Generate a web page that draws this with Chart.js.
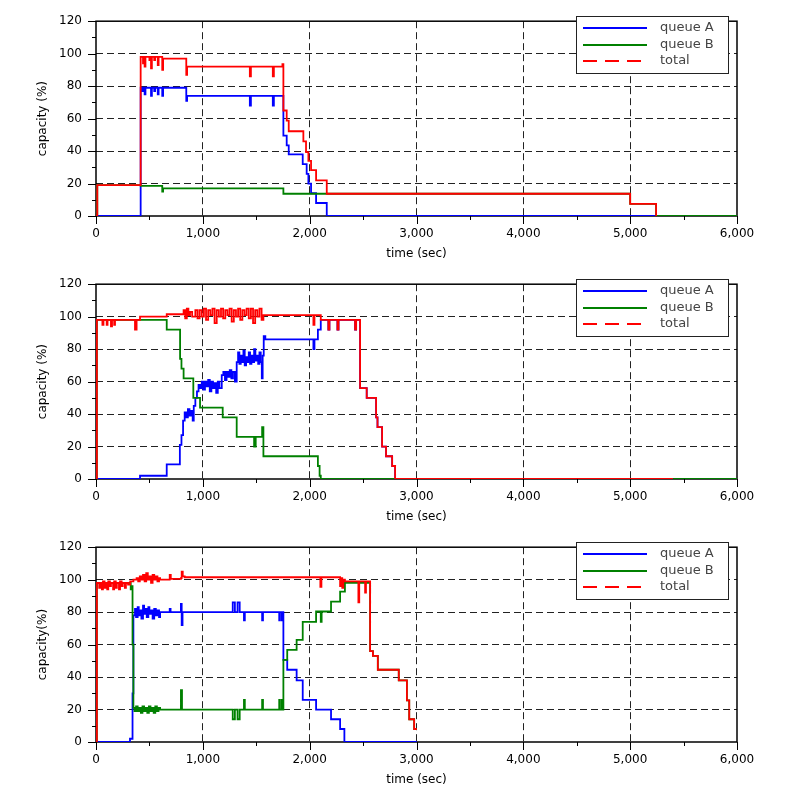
<!DOCTYPE html>
<html>
<head>
<meta charset="utf-8">
<script src="https://cdn.jsdelivr.net/npm/chart.js@4.4.0/dist/chart.umd.min.js"></script>
<style>
  html, body { margin: 0; padding: 0; background: #fff; }
  #wrap { position: relative; width: 785px; height: 808px; }
  canvas { position: absolute; left: 0; }
</style>
</head>
<body>
<div id="wrap">
  <canvas id="c1" width="785" height="263" style="top:0px"></canvas>
  <canvas id="c2" width="785" height="263" style="top:263px"></canvas>
  <canvas id="c3" width="785" height="263" style="top:526px"></canvas>
</div>
<script>
// series names and axis titles
const seriesNames = ['queue A', 'queue B', 'total'];
const yTitles = ['capacity (%)', 'capacity (%)', 'capacity(%)'];
const xTitle = 'time (sec)';

// chart 1: [time, capacity]
const queueA1 = [[0,0],[418,79],[430,77],[440,79],[455,75],[463,79],[515,74],[523,79],[545,77],[553,79],[578,75],[586,79],[620,74],[628,79],[845,71],[853,74],[1440,68],[1450,74],[1655,68],[1665,74],[1754,49.5],[1785,43.5],[1804,38],[1935,32],[1972,26],[1988,20],[2013,14],[2060,8],[2160,0],[6000,0]];
const queueB1 = [[0,0],[12,19],[418,18.6],[620,15],[628,17],[1754,13.7],[5000,7.5],[5243,0],[6000,0]];
const total1 = [[0,0],[12,19],[418,98],[440,94],[448,98],[455,92],[463,98],[500,96],[508,98],[515,91],[523,98],[545,96],[553,98],[578,93],[586,98],[620,90],[628,97],[845,87],[853,92],[1440,86],[1450,92],[1655,86],[1665,92],[1745,93.5],[1754,65],[1785,58.8],[1804,52.2],[1941,46],[1966,39.4],[1988,33.9],[2013,28.2],[2060,22],[2160,13.7],[5000,7.5],[5243,0]];

// chart 2
const queueA2 = [[0,0],[412,2],[662,9],[785,21],[800,27],[815,36],[830,41],[845,38],[860,43],[875,39],[890,42],[905,36],[915,45],[930,50],[945,54],[960,58],[975,56],[990,60],[1005,55],[1020,60],[1035,57],[1050,61],[1065,54],[1080,60],[1095,56],[1110,59],[1125,53],[1140,60],[1155,56],[1177,64],[1192,66],[1207,61],[1222,66],[1237,63],[1252,67],[1267,62],[1282,66],[1300,60],[1317,72],[1330,78],[1342,71],[1355,76],[1368,72],[1380,79],[1392,70],[1405,75],[1418,72],[1430,78],[1442,71],[1455,76],[1468,72],[1480,80],[1492,73],[1505,76],[1518,71],[1530,78],[1542,72],[1552,62],[1560,76],[1570,88],[1585,86],[2035,80],[2045,86],[2077,92],[2104,98],[2175,92],[2185,98],[2260,92],[2270,98],[2425,92],[2435,98],[2472,56],[2534,50],[2622,38],[2635,32],[2678,20],[2715,14],[2772,8],[2800,0],[5400,0]];
const queueB2 = [[0,0],[8,98],[662,92],[787,74],[800,68],[820,62],[911,50],[974,44],[1186,38],[1317,26],[1480,20],[1495,26],[1555,32],[1567,14],[2077,8],[2093,2],[2104,0],[6000,0]];
const total2 = [[0,0],[8,98],[60,95],[70,98],[100,95],[108,98],[140,94],[150,98],[170,95],[178,98],[365,92],[380,98],[412,100],[662,101.5],[820,104],[835,99],[850,105],[865,101],[880,103],[900,100],[930,104],[950,99],[970,104],[990,100],[1010,105],[1030,98],[1050,104],[1070,101],[1090,105],[1110,96],[1130,104],[1150,100],[1170,105],[1190,99],[1210,104],[1230,101],[1250,105],[1270,97],[1290,104],[1310,100],[1330,105],[1350,98],[1370,104],[1390,101],[1410,105],[1430,99],[1450,105],[1470,96],[1490,104],[1510,100],[1530,105],[1550,98],[1567,101],[2035,95],[2045,101],[2104,98],[2175,92],[2185,98],[2260,92],[2270,98],[2425,92],[2435,98],[2472,56],[2534,50],[2622,38],[2635,32],[2678,20],[2715,14],[2772,8],[2800,0],[5400,0]];

// chart 3
const queueA3 = [[0,0],[318,2],[342,30],[350,78],[365,82],[375,77],[390,83],[400,78],[415,81],[425,76],[440,84],[450,79],[465,82],[475,77],[490,83],[500,79],[515,81],[530,76],[545,82],[560,78],[575,81],[590,77],[600,80],[690,82],[698,80],[795,85],[802,72],[810,80],[1280,86],[1300,80],[1325,86],[1345,80],[1385,75],[1393,80],[1555,75],[1563,80],[1715,75],[1722,80],[1740,75],[1748,80],[1754,50.6],[1790,44.5],[1878,38],[1935,26],[2060,20],[2200,14],[2285,8],[2325,0],[3003,0]];
const queueB3 = [[0,0],[8,98],[325,94],[334,96],[342,60],[350,21],[360,19],[375,22],[390,19],[405,21],[420,18],[435,22],[450,19],[465,21],[480,18],[495,22],[510,19],[525,21],[540,18],[555,22],[570,19],[585,21],[600,20],[795,32],[805,20],[1280,14],[1300,20],[1325,14],[1345,20],[1385,26],[1393,20],[1555,26],[1563,20],[1715,26],[1722,20],[1740,26],[1748,20],[1754,50.6],[1790,56.7],[1878,62.9],[1935,74],[2060,80.4],[2104,74],[2112,80.4],[2200,86.5],[2285,92.6],[2330,98],[2566,56],[2592,53],[2638,44.5],[2834,38],[2910,25.7],[2932,14],[2978,8],[3003,8]];
const total3 = [[0,0],[8,98],[30,95],[40,98],[55,94],[65,99],[80,95],[90,98],[105,94],[115,99],[130,96],[140,98],[160,94],[170,99],[185,95],[195,98],[215,94],[225,99],[240,96],[250,98],[270,95],[280,98],[300,97],[320,99],[350,100],[380,101],[395,99],[410,102],[425,100],[440,103],[455,99],[470,104],[485,100],[500,102],[515,98],[530,103],[545,100],[560,102],[575,99],[590,101],[600,100],[690,103],[700,100.5],[795,101],[802,105],[812,102],[830,101.5],[2100,95.5],[2110,101.5],[2285,96],[2295,101],[2305,95],[2315,100],[2330,99],[2456,86],[2464,99],[2519,92],[2527,99],[2566,56],[2592,53],[2638,44.5],[2834,38],[2910,25.7],[2932,14],[2978,8],[3003,8]];

const colors = ['#0000ff', '#008000', '#ff0000'];
const fontFam = "'DejaVu Sans', sans-serif";

const toPts = arr => arr.map(p => ({ x: p[0], y: p[1] }));
const fmt = v => String(v).replace(/\B(?=(\d{3})+(?!\d))/g, ',');

// cadre, petites graduations et légende
const framePlugin = {
    id: 'frame',
    beforeDatasetsDraw(chart) {
        const { ctx, chartArea: a, scales: { x, y } } = chart;
        ctx.save();
        ctx.strokeStyle = '#000';
        ctx.lineWidth = 1;
        ctx.beginPath();
        x.ticks.forEach(t => {
            const px = Math.round(x.getPixelForValue(t.value)) + 0.5;
            const len = t.value % 1000 === 0 ? 8 : 4;
            ctx.moveTo(px, a.bottom);
            ctx.lineTo(px, a.bottom + len);
        });
        y.ticks.forEach(t => {
            const py = Math.round(y.getPixelForValue(t.value)) + 0.5;
            const len = t.value % 20 === 0 ? 8 : 4;
            ctx.moveTo(a.left, py);
            ctx.lineTo(a.left - len, py);
        });
        ctx.stroke();
        ctx.lineWidth = 1.5;
        ctx.strokeRect(a.left, a.top, a.right - a.left, a.bottom - a.top);
        ctx.restore();
    },
    afterDraw(chart) {
        const { ctx } = chart;
        const bx = 576, by = 16, bw = 152, bh = 57;
        ctx.save();
        ctx.fillStyle = '#fff';
        ctx.fillRect(bx, by, bw, bh);
        ctx.strokeStyle = '#222';
        ctx.lineWidth = 1;
        ctx.strokeRect(bx + 0.5, by + 0.5, bw, bh);
        seriesNames.forEach((name, i) => {
            const ly = Math.round(28 + i * 16.7);
            ctx.strokeStyle = colors[i];
            ctx.lineWidth = 2;
            ctx.setLineDash(i === 2 ? [14, 8] : []);
            ctx.beginPath();
            ctx.moveTo(583, ly);
            ctx.lineTo(i === 2 ? 643 : 647, ly);
            ctx.stroke();
            ctx.setLineDash([]);
            ctx.fillStyle = '#444';
            ctx.font = '13px ' + fontFam;
            ctx.textBaseline = 'middle';
            ctx.fillText(name, 660, ly);
        });
        ctx.restore();
    }
};

function makeChart(id, a, b, t, yTitle) {
    const series = [a, b, t];
    return new Chart(document.getElementById(id), {
        type: 'line',
        data: {
            datasets: series.map((s, i) => ({
                label: seriesNames[i],
                data: toPts(s),
                borderColor: colors[i],
                backgroundColor: colors[i],
                borderWidth: 1.8,
                pointRadius: 0,
                stepped: true,
                fill: false,
                order: 2 - i
            }))
        },
        options: {
            responsive: false,
            animation: false,
            devicePixelRatio: 1,
            layout: { padding: { left: 0, right: 48, top: 20, bottom: 0 } },
            plugins: { legend: { display: false }, tooltip: { enabled: false } },
            scales: {
                x: {
                    type: 'linear', min: 0, max: 6000,
                    afterFit: s => { s.height = 47; },
                    ticks: {
                        stepSize: 500, autoSkip: false, maxRotation: 0, padding: 11,
                        color: '#000', font: { family: fontFam, size: 12 },
                        callback: v => v % 1000 === 0 ? fmt(v) : ''
                    },
                    grid: {
                        drawTicks: false, lineWidth: 1,
                        color: c => (c.tick && c.tick.value % 1000 === 0 && c.tick.value > 0 && c.tick.value < 6000) ? '#222' : 'rgba(0,0,0,0)'
                    },
                    border: { display: false, dash: [7, 4] },
                    title: { display: true, text: xTitle, color: '#000', font: { family: fontFam, size: 12 }, padding: { top: 0, bottom: 2 } }
                },
                y: {
                    min: 0, max: 120,
                    afterFit: s => { s.width = 96; },
                    ticks: {
                        stepSize: 10, autoSkip: false, padding: 14,
                        color: '#000', font: { family: fontFam, size: 12 },
                        callback: v => v % 20 === 0 ? v : ''
                    },
                    grid: {
                        drawTicks: false, lineWidth: 1,
                        color: c => (c.tick && c.tick.value % 20 === 0 && c.tick.value > 0 && c.tick.value < 120) ? '#222' : 'rgba(0,0,0,0)'
                    },
                    border: { display: false, dash: [7, 4] },
                    title: { display: true, text: yTitle, color: '#000', font: { family: fontFam, size: 12 }, padding: { top: 36, bottom: 0 } }
                }
            }
        },
        plugins: [framePlugin]
    });
}

makeChart('c1', queueA1, queueB1, total1, yTitles[0]);
makeChart('c2', queueA2, queueB2, total2, yTitles[1]);
makeChart('c3', queueA3, queueB3, total3, yTitles[2]);
</script>
</body>
</html>
